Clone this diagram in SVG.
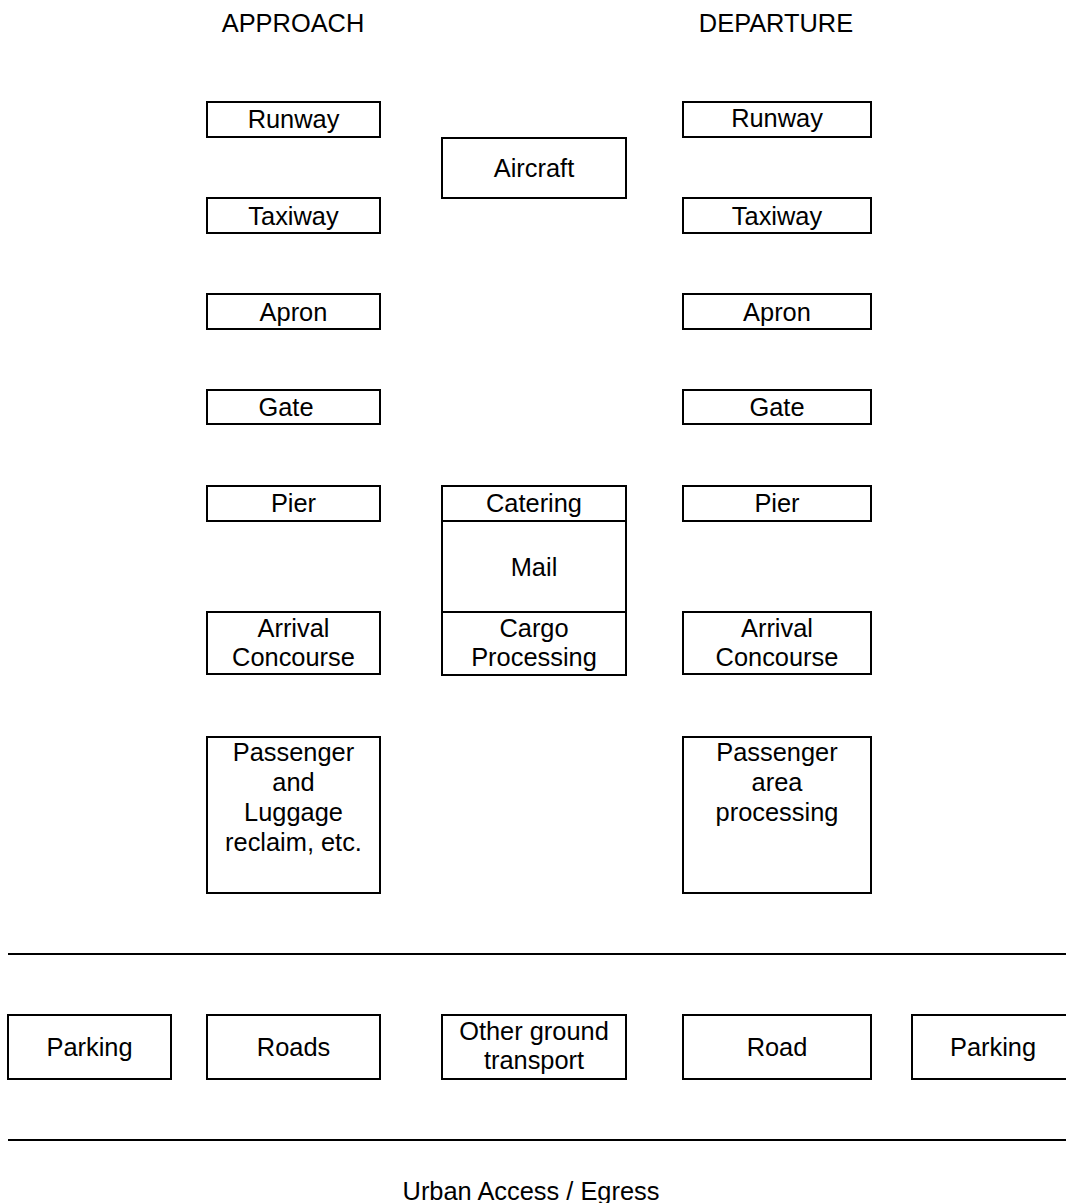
<svg xmlns="http://www.w3.org/2000/svg" width="1066" height="1203" viewBox="0 0 1066 1203">
<style>
rect{fill:#fff;stroke:#000;stroke-width:2}
text{font-family:"Liberation Sans",Arial,sans-serif;font-size:25.4px;fill:#000;text-anchor:middle}
line{stroke:#000;stroke-width:2}
</style>
<rect x="0" y="0" width="1066" height="1203" style="stroke:none"/>
<g id="headers">
<text x="293" y="32">APPROACH</text>
<text x="776" y="32">DEPARTURE</text>
</g>
<g id="a-runway"><rect x="207" y="102" width="173" height="35"/><text x="293.5" y="128">Runway</text></g>
<g id="a-taxiway"><rect x="207" y="198" width="173" height="35"/><text x="293.5" y="225">Taxiway</text></g>
<g id="a-apron"><rect x="207" y="294" width="173" height="35"/><text x="293.5" y="321">Apron</text></g>
<g id="a-gate"><rect x="207" y="390" width="173" height="34"/><text x="286" y="416">Gate</text></g>
<g id="a-pier"><rect x="207" y="486" width="173" height="35"/><text x="293.5" y="512">Pier</text></g>
<g id="a-arrival"><rect x="207" y="612" width="173" height="62"/><text x="293.5" y="637">Arrival</text><text x="293.5" y="666">Concourse</text></g>
<g id="a-passenger"><rect x="207" y="737" width="173" height="156"/><text x="293.5" y="761">Passenger</text><text x="293.5" y="791">and</text><text x="293.5" y="821">Luggage</text><text x="293.5" y="851">reclaim, etc.</text></g>
<g id="aircraft"><rect x="442" y="138" width="184" height="60"/><text x="534" y="177">Aircraft</text></g>
<g id="catering"><rect x="442" y="486" width="184" height="35"/><text x="534" y="512">Catering</text></g>
<g id="mail"><rect x="442" y="521" width="184" height="91"/><text x="534" y="576">Mail</text></g>
<g id="cargo"><rect x="442" y="612" width="184" height="63"/><text x="534" y="637">Cargo</text><text x="534" y="666">Processing</text></g>
<g id="d-runway"><rect x="683" y="102" width="188" height="35"/><text x="777" y="127">Runway</text></g>
<g id="d-taxiway"><rect x="683" y="198" width="188" height="35"/><text x="777" y="225">Taxiway</text></g>
<g id="d-apron"><rect x="683" y="294" width="188" height="35"/><text x="777" y="321">Apron</text></g>
<g id="d-gate"><rect x="683" y="390" width="188" height="34"/><text x="777" y="416">Gate</text></g>
<g id="d-pier"><rect x="683" y="486" width="188" height="35"/><text x="777" y="512">Pier</text></g>
<g id="d-arrival"><rect x="683" y="612" width="188" height="62"/><text x="777" y="637">Arrival</text><text x="777" y="666">Concourse</text></g>
<g id="d-passenger"><rect x="683" y="737" width="188" height="156"/><text x="777" y="761">Passenger</text><text x="777" y="791">area</text><text x="777" y="821">processing</text></g>
<g id="separators">
<line x1="8" y1="954" x2="1066" y2="954"/>
<line x1="8" y1="1140" x2="1066" y2="1140"/>
</g>
<g id="parking-l"><rect x="8" y="1015" width="163" height="64"/><text x="89.5" y="1056">Parking</text></g>
<g id="roads"><rect x="207" y="1015" width="173" height="64"/><text x="293.5" y="1056">Roads</text></g>
<g id="other"><rect x="442" y="1015" width="184" height="64"/><text x="534" y="1040">Other ground</text><text x="534" y="1069">transport</text></g>
<g id="road"><rect x="683" y="1015" width="188" height="64"/><text x="777" y="1056">Road</text></g>
<g id="parking-r"><rect x="912" y="1015" width="160" height="64"/><text x="993" y="1056">Parking</text></g>
<g id="footer"><text x="531" y="1200">Urban Access / Egress</text></g>
<g id="connectors"/>
</svg>
